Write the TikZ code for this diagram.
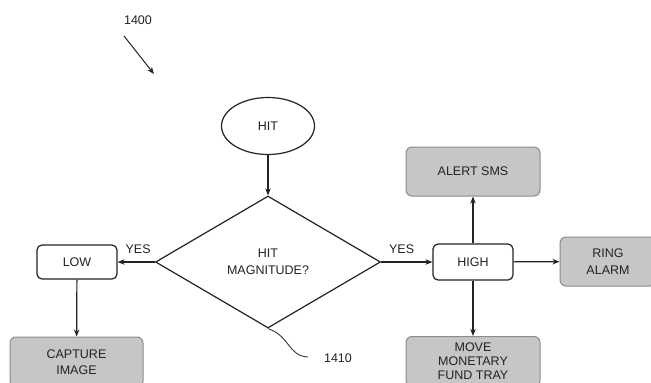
\documentclass[tikz,border=0pt]{standalone}
\usepackage{fontspec}
\setmainfont{Liberation Sans}
\usetikzlibrary{shapes.geometric,arrows.meta}
\definecolor{ink}{HTML}{222222}
\definecolor{boxgray}{HTML}{C6C6C6}
\definecolor{boxedge}{HTML}{8C8C8C}
\begin{document}
\begin{tikzpicture}[x=1pt,y=-1pt,
  every node/.style={font=\fontsize{12.5}{16.5}\selectfont, text=ink, align=center},
  tight/.style={font=\fontsize{12.5}{14}\selectfont},
  line/.style={draw=ink, line width=1.2pt},
  arr/.style={line, -{Stealth[length=7pt,width=5.5pt]}},
  whitebox/.style={line, rounded corners=5pt, fill=white, inner sep=0pt},
  graybox/.style={draw=boxedge, line width=1pt, rounded corners=6pt, fill=boxgray, inner sep=0pt}
]
\useasboundingbox (0,0) rectangle (651,383);
\begin{scope}
\clip (0,0) rectangle (651,383);

% start / decision
\node[ellipse, line, minimum width=93pt, minimum height=57pt, inner sep=0pt] (hit) at (268,126) {HIT};
\node[diamond, line, minimum width=225pt, minimum height=132pt, inner sep=0pt] (mag) at (268,262) {HIT\\MAGNITUDE?};

% low branch
\node[whitebox, minimum width=80pt, minimum height=34pt] (low) at (77,262) {LOW};
\node[graybox, minimum width=133pt, minimum height=50pt] (capture) at (76.5,362) {CAPTURE\\IMAGE};

% high branch
\node[whitebox, minimum width=80pt, minimum height=36pt] (high) at (473,262) {HIGH};
\node[graybox, minimum width=134pt, minimum height=49pt] (sms) at (473,171.5) {ALERT SMS};
\node[graybox, minimum width=96pt, minimum height=49pt] (ring) at (608,261.5) {RING\\ALARM};
\node[graybox, tight, minimum width=134pt, minimum height=50pt] (tray) at (473,361.5) {MOVE\\MONETARY\\FUND TRAY};
\end{scope}

% connectors
\draw[arr] (hit) -- (mag);
\draw[arr] (mag.west) -- (low.east) node[pos=0.45, above=4pt] {YES};
\draw[arr] (mag.east) -- (high.west) node[pos=0.4, above=4pt] {YES};
\draw[arr] (low) -- (capture);
\draw[arr] (high) -- (sms);
\draw[arr] (high) -- (ring);
\draw[arr] (high) -- (tray);

% reference labels
\node (ref1400) at (138,20) {1400};
\coordinate (tip1400) at (154,74);
\draw[arr, line width=1pt] (124,36) -- (tip1400);

\node (ref1410) at (338,358) {1410};
\coordinate (end1410) at (308,357);
\draw[draw=ink, line width=0.8pt] (mag.south) .. controls (290,336) and (288,356) .. (end1410);
\end{tikzpicture}
\end{document}
